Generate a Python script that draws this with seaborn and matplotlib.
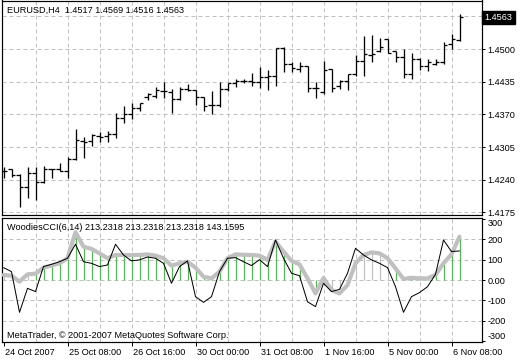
import numpy as np
import pandas as pd
import matplotlib
matplotlib.use("Agg")
import matplotlib.pyplot as plt
import matplotlib.transforms as mtransforms
import seaborn as sns

# ---------------- data (EURUSD H4) ----------------
opens = [1.4257, 1.4261, 1.4249, 1.4225, 1.4253, 1.4235, 1.4261, 1.4261, 1.4258, 1.4282,
         1.4316, 1.4316, 1.4327, 1.4327, 1.4331, 1.4363, 1.4371, 1.4383, 1.4405, 1.4406,
         1.4416, 1.4414, 1.4400, 1.4421, 1.4418, 1.4404, 1.4388, 1.4389, 1.4421, 1.4433,
         1.4437, 1.4437, 1.4434, 1.4444, 1.4446, 1.4501, 1.4470, 1.4460, 1.4466, 1.4422,
         1.4414, 1.4460, 1.4426, 1.4436, 1.4451, 1.4476, 1.4489, 1.4496, 1.4519, 1.4496,
         1.4484, 1.4451, 1.4480, 1.4466, 1.4471, 1.4474, 1.4509, 1.4517]
highs = [1.4266, 1.4262, 1.4251, 1.4265, 1.4265, 1.4267, 1.4262, 1.4273, 1.4286, 1.4340,
         1.4325, 1.4331, 1.4335, 1.4336, 1.4372, 1.4387, 1.4393, 1.4393, 1.4413, 1.4424,
         1.4434, 1.4420, 1.4425, 1.4430, 1.4418, 1.4404, 1.4416, 1.4434, 1.4433, 1.4440,
         1.4441, 1.4452, 1.4464, 1.4458, 1.4501, 1.4503, 1.4474, 1.4475, 1.4467, 1.4435,
         1.4476, 1.4460, 1.4438, 1.4450, 1.4488, 1.4526, 1.4528, 1.4521, 1.4519, 1.4497,
         1.4500, 1.4492, 1.4483, 1.4481, 1.4481, 1.4513, 1.4529, 1.4569]
lows = [1.4243, 1.4245, 1.4185, 1.4204, 1.4200, 1.4233, 1.4243, 1.4257, 1.4243, 1.4280,
        1.4283, 1.4307, 1.4315, 1.4314, 1.4322, 1.4353, 1.4361, 1.4377, 1.4399, 1.4402,
        1.4402, 1.4373, 1.4399, 1.4417, 1.4388, 1.4376, 1.4371, 1.4384, 1.4416, 1.4425,
        1.4432, 1.4427, 1.4423, 1.4418, 1.4427, 1.4455, 1.4455, 1.4455, 1.4415, 1.4402,
        1.4411, 1.4414, 1.4420, 1.4419, 1.4447, 1.4447, 1.4475, 1.4495, 1.4492, 1.4475,
        1.4443, 1.4440, 1.4458, 1.4456, 1.4468, 1.4471, 1.4500, 1.4516]
closes = [1.4257, 1.4249, 1.4225, 1.4253, 1.4235, 1.4261, 1.4261, 1.4258, 1.4282, 1.4318,
          1.4315, 1.4328, 1.4324, 1.4331, 1.4363, 1.4371, 1.4383, 1.4393, 1.4410, 1.4418,
          1.4416, 1.4400, 1.4421, 1.4418, 1.4404, 1.4387, 1.4389, 1.4421, 1.4432, 1.4437,
          1.4437, 1.4434, 1.4444, 1.4447, 1.4501, 1.4470, 1.4463, 1.4466, 1.4423, 1.4422,
          1.4458, 1.4423, 1.4436, 1.4450, 1.4476, 1.4491, 1.4490, 1.4503, 1.4493, 1.4484,
          1.4451, 1.4480, 1.4466, 1.4474, 1.4475, 1.4508, 1.4519, 1.4563]

# Woodies CCI(6,14)
cci14 = [25, 21, -8, 28, 31, 61, 71, 82, 107, 235,
         164, 153, 131, 107, 123, 123, 123, 123, 126, 120,
         107, 71, 82, 90, 61, 16, 8, 41, 107, 126,
         124, 123, 120, 99, 189, 140, 94, 77, 8, -66,
         10, -49, -66, -25, 82, 123, 136, 131, 107, 57,
         5, 11, 8, 8, 25, 82, 126, 213]
turbo = [61, 41, -159, -41, -57, 66, 77, 90, 107, 176,
         90, 82, 66, 74, 176, 123, 94, 99, 113, 107,
         82, -16, 66, 94, -82, -110, -82, 41, 107, 110,
         90, 71, 100, 66, 197, 107, 33, 21, -107, -131,
         -16, -57, -46, 33, 156, 123, 99, 82, 61, -33,
         -159, -82, -62, -33, 28, 197, 140, 143]
# histogram trend flag: 1 = trend (green), 0 = neutral (gray)
hist_trend = [0, 0, 0, 0] + [1] * 36 + [0] * 9 + [1] * 9

price_ticks = [1.4175, 1.4240, 1.4305, 1.4370, 1.4435, 1.4500]
price_grid = [1.4175, 1.4240, 1.4305, 1.4370, 1.4435, 1.4500, 1.4565]
cci_ticks = [300, 200, 100, 0, -100, -200, -300]
cci_tick_labels = ["300", "200", "100", "0.00", "-100", "-200", "-300"]
cci_grid = [200, 100, 0, -100, -200]
time_label_bars = [0, 8, 16, 24, 32, 40, 48, 56]
time_labels = ["24 Oct 2007", "25 Oct 08:00", "26 Oct 16:00", "30 Oct 00:00",
               "31 Oct 08:00", "1 Nov 16:00", "5 Nov 00:00", "6 Nov 08:00"]
vgrid_bars = [4, 8, 12, 16, 20, 24, 28, 32, 36, 40, 44, 48, 52, 56]

header_main = "EURUSD,H4  1.4517 1.4569 1.4516 1.4563"
header_ind = "WoodiesCCI(6,14) 213.2318 213.2318 213.2318 143.1595"
copyright_txt = "MetaTrader, \u00a9 2001-2007 MetaQuotes Software Corp."
last_price = closes[-1]

# ---------------- style ----------------
sns.set_style("white")
plt.rcParams['font.family'] = ['Liberation Sans', 'DejaVu Sans']
FS = 6.6
PX = 0.72  # one pixel in points at 100 dpi
GRID_C = '#C0C0C0'
GREEN = '#32CD32'
SILVER = '#C0C0C0'

W, H = 520, 360
fig = plt.figure(figsize=(W / 100, H / 100), dpi=100)
fig.patch.set_facecolor('white')


def px_axes(left, top, right, bottom):
    return fig.add_axes([left / W, 1 - bottom / H, (right - left) / W, (bottom - top) / H])


ax = px_axes(1.5, 0.5, 481.5, 214.7)
ax2 = px_axes(1.5, 217.8, 481.5, 342.2)

n = len(opens)
idx = np.arange(n)
xlim = (-0.25, 59.75)
dash = (0, (4, 3))

for a in (ax, ax2):
    a.set_xlim(*xlim)
    a.set_facecolor('white')
    for s in a.spines.values():
        s.set_color('black')
        s.set_linewidth(PX * 1.2)
    for b in vgrid_bars:
        a.axvline(b, color=GRID_C, lw=PX, ls=dash, zorder=0)

# ---------------- main price panel ----------------
ax.set_ylim(1.417031, 1.459650)
for p in price_grid:
    ax.axhline(p, color=GRID_C, lw=PX, ls=dash, zorder=0)

df = pd.DataFrame({'i': idx, 'open': opens, 'high': highs, 'low': lows, 'close': closes})
ax.vlines(df['i'], df['low'], df['high'], color='black', lw=PX * 1.3, zorder=3)
ax.hlines(df['open'], df['i'] - 0.38, df['i'], color='black', lw=PX * 1.3, zorder=3)
ax.hlines(df['close'], df['i'], df['i'] + 0.38, color='black', lw=PX * 1.3, zorder=3)

ax.yaxis.tick_right()
ax.set_yticks(price_ticks)
ax.set_yticklabels([f"{p:.4f}" for p in price_ticks])
ax.tick_params(axis='y', direction='out', length=3 * PX, width=PX, labelsize=FS, pad=2,
               colors='black', right=True, left=False)
ax.set_xticks([])
ax.set_xlabel('')
ax.set_ylabel('')

trans = mtransforms.blended_transform_factory(ax.transAxes, ax.transData)
ax.text(1.0, last_price, f"{last_price:.4f}",
        transform=trans + mtransforms.ScaledTranslation(3 / 100, 0, fig.dpi_scale_trans),
        ha='left', va='center', color='white', fontsize=FS, zorder=10, clip_on=False,
        bbox=dict(boxstyle='square,pad=0.25', fc='black', ec='black'))

# ---------------- Woodies CCI panel ----------------
ax2.set_ylim(-306, 306)
for v in cci_grid:
    ax2.axhline(v, color=GRID_C, lw=PX, ls=dash, zorder=0)

cdf = pd.DataFrame({'i': idx, 'cci14': cci14, 'turbo': turbo, 'trend': hist_trend})
hcolors = [GREEN if t else SILVER for t in cdf['trend']]
ax2.vlines(cdf['i'], 0, cdf['cci14'], colors=hcolors, lw=PX * 1.2, zorder=2)
sns.lineplot(data=cdf, x='i', y='cci14', ax=ax2, color=SILVER, linewidth=3.0,
             zorder=3, legend=False, solid_capstyle='round', solid_joinstyle='round')
sns.lineplot(data=cdf, x='i', y='turbo', ax=ax2, color='black', linewidth=PX,
             zorder=4, legend=False)
ax2.set_xlim(*xlim)
ax2.set_ylim(-306, 306)
ax2.set_xlabel('')
ax2.set_ylabel('')

ax2.yaxis.tick_right()
ax2.set_yticks(cci_ticks)
ax2.set_yticklabels(cci_tick_labels)
ax2.tick_params(axis='y', direction='out', length=3 * PX, width=PX, labelsize=FS, pad=2,
                colors='black', right=True, left=False)
ylabs = ax2.get_yticklabels()
ylabs[0].set_va('top')
ylabs[-1].set_va('bottom')

ax2.set_xticks(time_label_bars)
ax2.set_xticklabels(time_labels)
ax2.tick_params(axis='x', direction='out', length=4 * PX, width=PX, labelsize=FS, pad=1,
                colors='black', bottom=True)
off = mtransforms.ScaledTranslation(1.5 / 100, 0, fig.dpi_scale_trans)
for lab in ax2.get_xticklabels():
    lab.set_ha('left')
    lab.set_transform(lab.get_transform() + off)

# ---------------- texts ----------------
fig.text(7 / W, 1 - 10.5 / H, header_main, ha='left', va='center', fontsize=FS, color='black')
fig.text(7 / W, 1 - 228 / H, header_ind, ha='left', va='center', fontsize=FS, color='black')
fig.text(7 / W, 1 - 335 / H, copyright_txt, ha='left', va='center', fontsize=FS, color='black')

fig.savefig('out.png', dpi=100, facecolor='white')
